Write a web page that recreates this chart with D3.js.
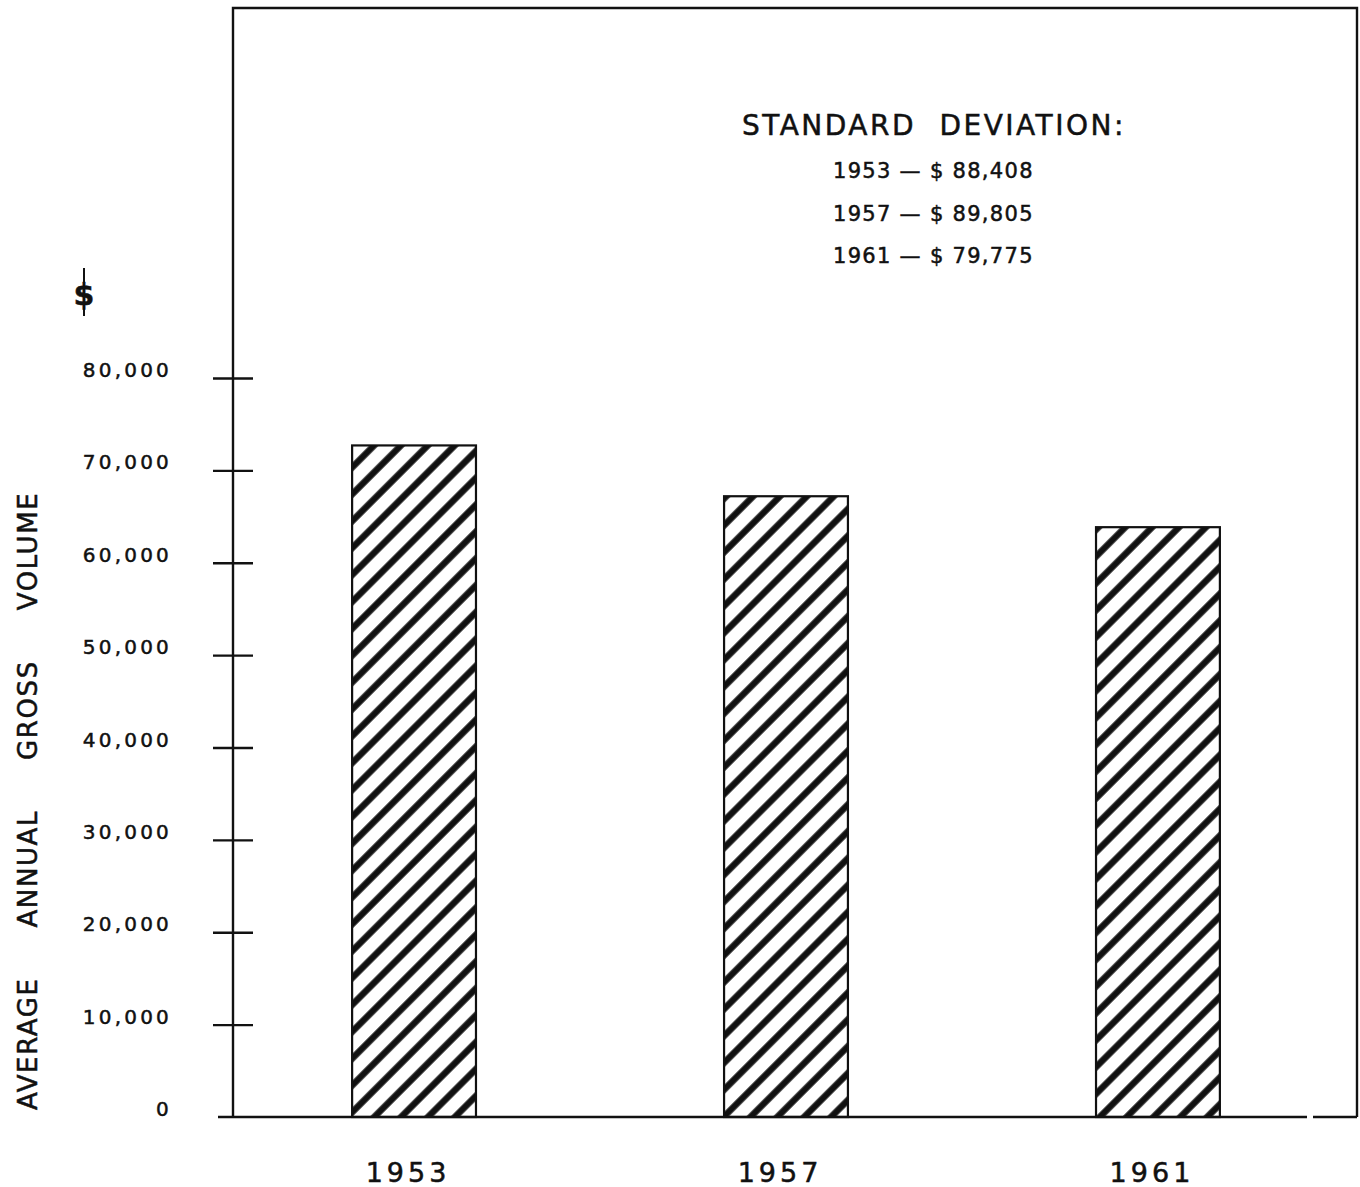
<!DOCTYPE html>
<html><head><meta charset="utf-8">
<script src="https://cdn.jsdelivr.net/npm/d3@7"></script>
<style>
html,body{margin:0;padding:0;background:#fff;}
text{font-family:"DejaVu Sans","Liberation Sans",sans-serif;fill:#111;stroke:#111;stroke-width:0.5;}
</style></head>
<body>
<script>
const years = ["1953", "1957", "1961"];
const volumes = [72700, 67200, 63850];
const yTicks = [0, 10000, 20000, 30000, 40000, 50000, 60000, 70000, 80000];
const yTickLabels = ["0", "10,000", "20,000", "30,000", "40,000", "50,000", "60,000", "70,000", "80,000"];
const sdYears = ["1953", "1957", "1961"];
const sdValues = ["88,408", "89,805", "79,775"];
const legendTitle = "STANDARD DEVIATION:";
const yTitleWords = ["AVERAGE", "ANNUAL", "GROSS", "VOLUME"];

const W = 1360, H = 1187;
const svg = d3.select("body").append("svg").attr("width", W).attr("height", H);

const defs = svg.append("defs");
const P = 19;
const pat = defs.append("pattern").attr("id", "hatch").attr("patternUnits", "userSpaceOnUse")
  .attr("width", P).attr("height", P).attr("patternTransform", "rotate(45)");
pat.append("rect").attr("width", P).attr("height", P).attr("fill", "#fff");
pat.append("line").attr("x1", P / 2).attr("y1", 0).attr("x2", P / 2).attr("y2", P)
  .attr("stroke", "#111").attr("stroke-width", 6.5);

const x = d3.scaleBand().domain(years).range([290, 1282]).paddingInner(0.667).paddingOuter(0.167);
const y = d3.scaleLinear().domain([0, 80000]).range([1117, 378]);

const axisX = 233;
// frame
svg.append("path").attr("d", `M${axisX},${y(0)}V8H1357V1117`).attr("fill", "none")
  .attr("stroke", "#111").attr("stroke-width", 2.4);

// bars
svg.selectAll("rect.bar").data(years).join("rect").attr("class", "bar")
  .attr("x", d => x(d)).attr("width", x.bandwidth())
  .attr("y", (d, i) => y(volumes[i])).attr("height", (d, i) => y(0) - y(volumes[i]))
  .attr("fill", "url(#hatch)").attr("stroke", "#111").attr("stroke-width", 2.2);

// baseline
svg.append("line").attr("x1", 218).attr("x2", 1307).attr("y1", y(0)).attr("y2", y(0))
  .attr("stroke", "#111").attr("stroke-width", 2.4);
svg.append("line").attr("x1", 1313).attr("x2", 1357).attr("y1", y(0)).attr("y2", y(0))
  .attr("stroke", "#111").attr("stroke-width", 2.4);

// y axis ticks
const yAxis = d3.axisLeft(y).tickValues(yTicks.slice(1)).tickSize(20).tickFormat("");
const ga = svg.append("g").attr("transform", `translate(${axisX},0)`).call(yAxis);
ga.select(".domain").remove();
ga.selectAll(".tick line").attr("x2", -20).attr("x1", 20).attr("stroke", "#111").attr("stroke-width", 2.4);

svg.selectAll("text.ytl").data(yTicks).join("text").attr("class", "ytl")
  .attr("x", 172).attr("y", d => y(d) - 1).attr("text-anchor", "end")
  .attr("font-size", 20).attr("letter-spacing", 3.2).text((d, i) => yTickLabels[i]);

// $ symbol
svg.append("text").attr("x", 84).attr("y", 305).attr("text-anchor", "middle")
  .attr("font-size", 30).attr("font-weight", "bold").text("$");
svg.append("line").attr("x1", 84).attr("x2", 84).attr("y1", 268).attr("y2", 316)
  .attr("stroke", "#111").attr("stroke-width", 2);

// y title: words laid out bottom-to-top with fixed gaps
const tg = svg.append("g").attr("transform", "translate(37,1110) rotate(-90)");
let off = 0;
yTitleWords.forEach(w => {
  const t = tg.append("text").attr("x", off).attr("y", 0).attr("font-size", 26).attr("letter-spacing", 1.6).text(w);
  off += t.node().getComputedTextLength() + 50;
});

// x labels
svg.selectAll("text.xl").data(years).join("text").attr("class", "xl")
  .attr("x", d => x(d) + x.bandwidth() / 2 - 6).attr("y", 1182).attr("text-anchor", "middle")
  .attr("font-size", 27).attr("letter-spacing", 4).text(d => d);

// legend
svg.append("text").attr("x", 742).attr("y", 135).attr("font-size", 28).attr("letter-spacing", 2.5)
  .attr("word-spacing", 12).text(legendTitle);
sdYears.forEach((yr, i) => {
  svg.append("text").attr("x", 833).attr("y", 178 + i * 42.5).attr("font-size", 21).attr("letter-spacing", 1.3)
    .text(`${yr} — $ ${sdValues[i]}`);
});
</script>
</body></html>
